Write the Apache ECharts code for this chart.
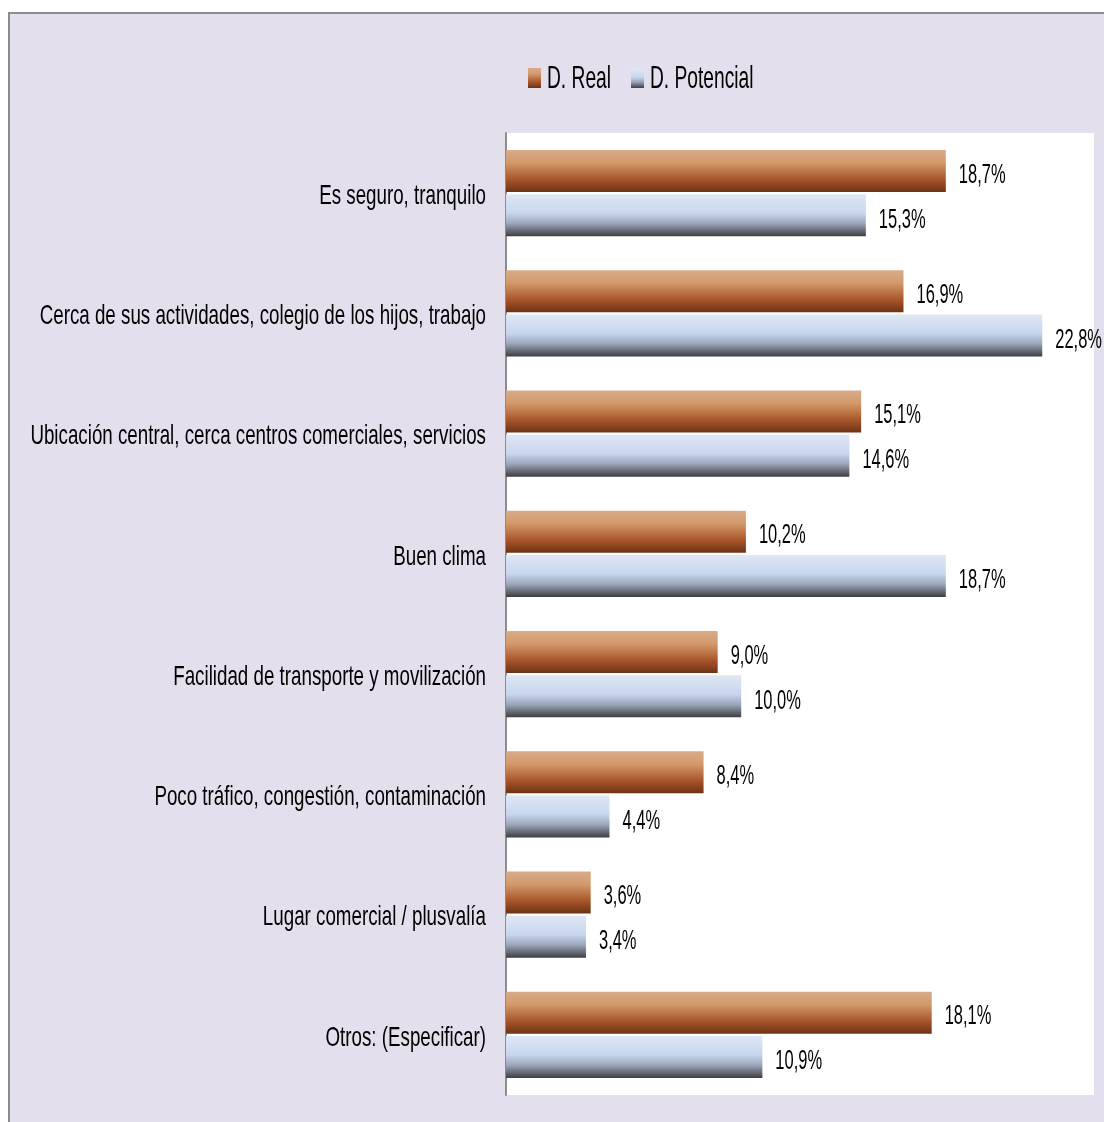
<!DOCTYPE html>
<html>
<head>
<meta charset="utf-8">
<script src="https://cdn.jsdelivr.net/npm/echarts@6/dist/echarts.min.js"></script>
<style>
  html, body { margin: 0; padding: 0; background: #ffffff; }
  #chart { width: 1104px; height: 1122px; }
</style>
</head>
<body>
<div id="chart"></div>
<script>
// Motivos de elección de la zona: demanda real vs. potencial (%)
const categories = [
  'Es seguro, tranquilo',
  'Cerca de sus actividades, colegio de los hijos, trabajo',
  'Ubicación central, cerca centros comerciales, servicios',
  'Buen clima',
  'Facilidad de transporte y movilización',
  'Poco tráfico, congestión, contaminación',
  'Lugar comercial / plusvalía',
  'Otros: (Especificar)'
];
const seriesNames = ['D. Real', 'D. Potencial'];
const realValues = [18.7, 16.9, 15.1, 10.2, 9.0, 8.4, 3.6, 18.1];
const potencialValues = [15.3, 22.8, 14.6, 18.7, 10.0, 4.4, 3.4, 10.9];

const FONT = '"Liberation Sans", Arial, sans-serif';
// condensed look: text is drawn horizontally squeezed
const SQUEEZE = 0.67;
const BAR_W = 42;
const BAR_GAP = 0.05;

function orangeFill() {
  return new echarts.graphic.LinearGradient(0, 0, 0, 1, [
    { offset: 0, color: '#d8ab8a' },
    { offset: 0.3, color: '#d39a6a' },
    { offset: 0.7, color: '#a8552a' },
    { offset: 1, color: '#6c3214' }
  ]);
}
function blueFill() {
  return new echarts.graphic.LinearGradient(0, 0, 0, 1, [
    { offset: 0, color: '#dfe7f3' },
    { offset: 0.45, color: '#c7d6ee' },
    { offset: 0.7, color: '#9ba5b8' },
    { offset: 1, color: '#3d3e42' }
  ]);
}

const pctText = v => v.toFixed(1).replace('.', ',') + '%';

// centre offset of each bar inside its category band
const barShift = (BAR_W + BAR_W * BAR_GAP) / 2;

function valueLabelSeries(values, sign) {
  return {
    type: 'custom',
    silent: true,
    z: 5,
    data: values.map((v, i) => [v, i]),
    renderItem: function (params, api) {
      const p = api.coord([api.value(0), api.value(1)]);
      return {
        type: 'text',
        x: p[0] + 13,
        y: p[1] + sign * barShift + (sign < 0 ? 4 : 5),
        scaleX: 0.61,
        style: {
          text: pctText(api.value(0)),
          fontFamily: FONT,
          fontSize: 27,
          fill: '#000000',
          align: 'left',
          verticalAlign: 'middle'
        }
      };
    }
  };
}

const chart = echarts.init(document.getElementById('chart'), null, { renderer: 'canvas' });

function legendItem(x, name, fill) {
  return {
    type: 'group',
    x: x,
    y: 68,
    silent: true,
    children: [
      { type: 'rect', shape: { x: 0, y: 0, width: 13, height: 20 }, style: { fill: fill } },
      {
        type: 'text', x: 19, y: 11, scaleX: 0.6,
        style: { text: name, fontFamily: FONT, fontSize: 32, fill: '#000000', align: 'left', verticalAlign: 'middle' }
      }
    ]
  };
}

chart.setOption({
  backgroundColor: '#ffffff',
  animation: false,
  graphic: [
    {
      type: 'rect',
      z: -10,
      silent: true,
      shape: { x: 9, y: 13, width: 1200, height: 1200 },
      style: { fill: '#e4dfec', stroke: '#8c8c8c', lineWidth: 2 }
    },
    legendItem(528, seriesNames[0], orangeFill()),
    legendItem(631, seriesNames[1], blueFill())
  ],
  grid: {
    left: 506,
    right: 10,
    top: 133,
    bottom: 27,
    show: true,
    backgroundColor: '#ffffff',
    borderWidth: 0,
    containLabel: false,
    outerBoundsMode: 'none'
  },
  xAxis: {
    type: 'value',
    min: 0,
    max: 25,
    show: false
  },
  yAxis: {
    type: 'category',
    data: categories,
    inverse: true,
    axisLine: { show: true, lineStyle: { color: '#8c8c8c', width: 2 } },
    axisTick: { show: false },
    axisLabel: { show: false }
  },
  series: [
    {
      name: seriesNames[0],
      type: 'bar',
      data: realValues,
      barWidth: BAR_W,
      barGap: (BAR_GAP * 100) + '%',
      itemStyle: { color: orangeFill() }
    },
    {
      name: seriesNames[1],
      type: 'bar',
      data: potencialValues,
      barWidth: BAR_W,
      barGap: (BAR_GAP * 100) + '%',
      itemStyle: { color: blueFill() }
    },
    valueLabelSeries(realValues, -1),
    valueLabelSeries(potencialValues, 1),
    {
      // category names, right-aligned against the axis line
      type: 'custom',
      silent: true,
      data: categories.map((c, i) => [0, i]),
      renderItem: function (params, api) {
        const p = api.coord([0, api.value(1)]);
        return {
          type: 'text',
          x: p[0] - 20,
          y: p[1] + 3,
          scaleX: SQUEEZE,
          style: {
            text: categories[params.dataIndex],
            fontFamily: FONT,
            fontSize: 28,
            fill: '#000000',
            align: 'right',
            verticalAlign: 'middle'
          }
        };
      }
    }
  ]
});
</script>
</body>
</html>
